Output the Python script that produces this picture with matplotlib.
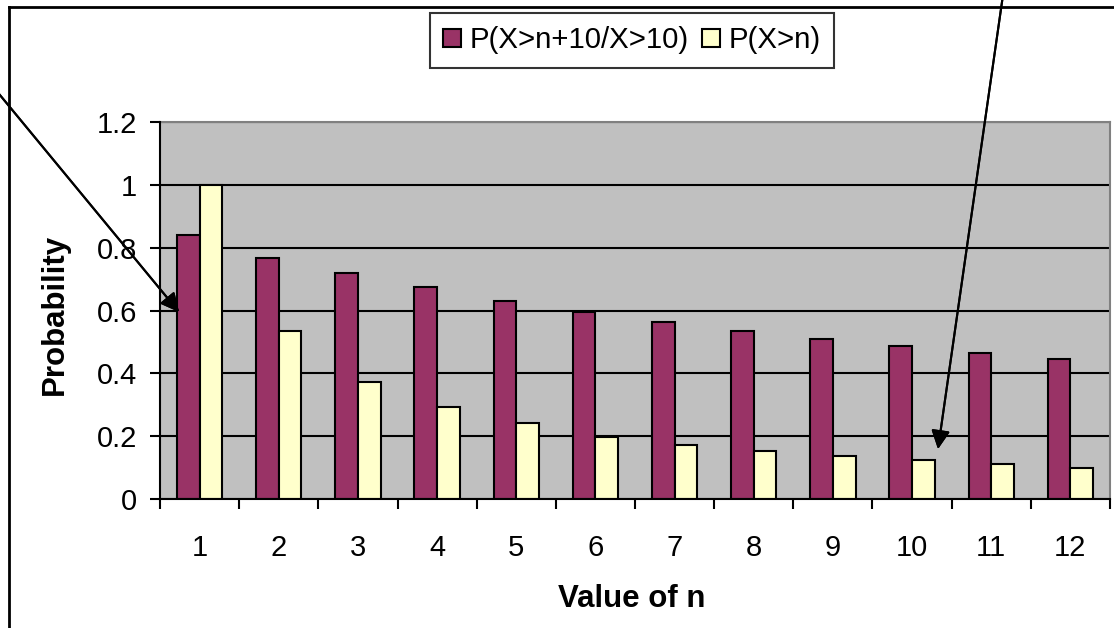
import matplotlib.pyplot as plt
from matplotlib.lines import Line2D
import numpy as np

n_values = [1, 2, 3, 4, 5, 6, 7, 8, 9, 10, 11, 12]
p_cond = [0.84, 0.768, 0.718, 0.674, 0.630, 0.594, 0.562, 0.536, 0.510, 0.487, 0.465, 0.445]
p_simple = [1.0, 0.536, 0.373, 0.292, 0.243, 0.197, 0.173, 0.153, 0.137, 0.124, 0.111, 0.099]
series_labels = ["P(X>n+10/X>10)", "P(X>n)"]
y_ticks = [0, 0.2, 0.4, 0.6, 0.8, 1, 1.2]
y_tick_labels = ["0", "0.2", "0.4", "0.6", "0.8", "1", "1.2"]

plt.rcParams['font.family'] = ['Liberation Sans', 'DejaVu Sans']

W, H = 1114, 628
fig = plt.figure(figsize=(W / 100, H / 100), dpi=100)
ax = fig.add_axes([160 / W, (H - 499) / H, 950 / W, 377 / H])

x = np.array(n_values)
w = 1 / 3.5
ax.set_facecolor('#C0C0C0')
ax.bar(x - w / 2, p_cond, width=w, color='#993366', edgecolor='black', linewidth=1.5,
       label=series_labels[0], zorder=3)
ax.bar(x + w / 2, p_simple, width=w, color='#FFFFCC', edgecolor='black', linewidth=1.5,
       label=series_labels[1], zorder=3)

ax.set_xlim(0.5, 12.5)
ax.set_ylim(0, 1.2)
ax.set_yticks(y_ticks)
ax.set_yticklabels(y_tick_labels, fontsize=21)
ax.set_xticks(n_values)
ax.set_xticklabels([str(v) for v in n_values], fontsize=21)
ax.set_xticks(np.arange(0.5, 13, 1), minor=True)
ax.tick_params(axis='x', which='major', length=0, pad=25)
ax.tick_params(axis='x', which='minor', length=7.5, width=1.5, color='black')
ax.tick_params(axis='y', length=7.5, width=1.5, pad=9)
ax.yaxis.grid(True, color='black', linewidth=1.5)
ax.set_axisbelow(True)

for side in ['left', 'bottom']:
    ax.spines[side].set_color('black')
    ax.spines[side].set_linewidth(1.5)
    ax.spines[side].set_zorder(4)
for side in ['top', 'right']:
    ax.spines[side].set_color('#808080')
    ax.spines[side].set_linewidth(1.5)

ax.set_ylabel("Probability", fontsize=22.5, fontweight='bold')
ax.yaxis.set_label_coords(-0.095, 0.49)
ax.set_xlabel("Value of n", fontsize=22.5, fontweight='bold')
ax.xaxis.set_label_coords(0.497, -0.225)

leg = fig.legend(loc='center', bbox_to_anchor=(632 / W, 1 - 40.5 / H), ncol=2, fontsize=21.2,
                 frameon=True, fancybox=False, edgecolor='black', handlelength=0.6,
                 handleheight=0.6, handletextpad=0.3, columnspacing=0.45, borderpad=0.45)
leg.get_frame().set_linewidth(1.5)

# chart frame (top and left edges)
fig.add_artist(Line2D([9 / W, 9 / W], [0, 1 - 7 / H], color='black', lw=2))
fig.add_artist(Line2D([9 / W, 1], [1 - 7 / H, 1 - 7 / H], color='black', lw=2))

# arrows coming in from outside
arrow = dict(arrowstyle='-|>', mutation_scale=28, lw=1.5, color='black', shrinkA=0, shrinkB=0)
fig.add_artist(plt.annotate("", xy=(179, H - 312), xytext=(-10, H - 83),
                            xycoords='figure pixels', textcoords='figure pixels', arrowprops=arrow))
fig.add_artist(plt.annotate("", xy=(938, H - 449), xytext=(1004, H + 12),
                            xycoords='figure pixels', textcoords='figure pixels', arrowprops=arrow))

plt.savefig('out.png', dpi=100)
